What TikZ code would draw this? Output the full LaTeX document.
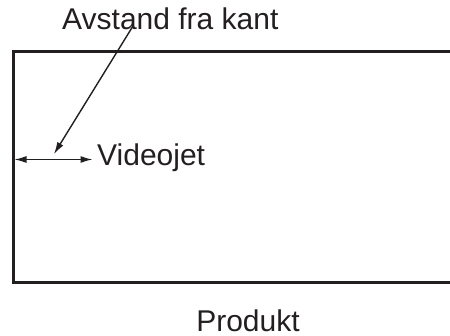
\documentclass[tikz,border=0pt]{standalone}
\usepackage{fontspec}
\setmainfont{Liberation Sans}
\usetikzlibrary{arrows.meta}
\definecolor{ink}{HTML}{231F20}
\begin{document}
\begin{tikzpicture}[x=1pt,y=1pt,
  lbl/.style={inner sep=0pt, anchor=base west, font=\fontsize{30}{36}\selectfont, text=ink},
  frame/.style={draw=ink, line width=3pt},
  tip/.tip={Latex[length=12pt,width=7pt]},
  dim/.style={draw=ink, line width=1.4pt, -tip}]
\useasboundingbox (0,0) rectangle (450,335);
\draw[frame] (451,283) -- (13,283) -- (13,53) -- (451,53);
\node[lbl] (avst) at (62,305) {Avstand fra kant};
\node[lbl] (vj) at (97,169) {Videojet};
\node[lbl, anchor=base] (prod) at (248,4) {Produkt};
\coordinate (L) at (14.5,175.5);
\coordinate (R) at (92.5,175.5);
\coordinate (ds) at (133,309);
\coordinate (dt) at (54,181);
\draw[dim, tip-tip] (L) -- (R);
\draw[dim] (ds) -- (dt);
\end{tikzpicture}
\end{document}
